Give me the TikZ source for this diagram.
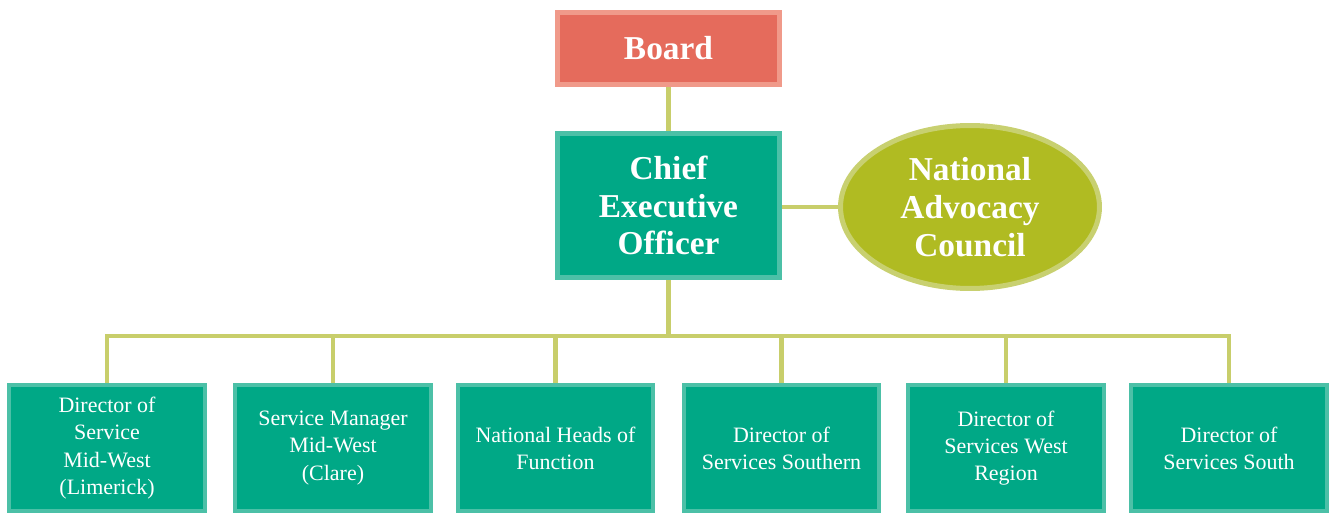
\documentclass[tikz,border=0pt]{standalone}
\usepackage{fontspec}
\setmainfont{Liberation Serif}
\usetikzlibrary{shapes.geometric}

\definecolor{boardred}{HTML}{E56B5C}
\definecolor{boardedge}{HTML}{F09A8A}
\definecolor{teal}{HTML}{00A886}
\definecolor{tealedge}{HTML}{4CC0A7}
\definecolor{olive}{HTML}{B0BB22}
\definecolor{oliveedge}{HTML}{C8D070}
\definecolor{link}{HTML}{C8CE6B}

\tikzset{
  topbox/.style={rectangle, line width=0.1cm, text=white, align=center,
    font=\fontsize{19}{21.5}\selectfont\bfseries, inner sep=0pt},
  unitbox/.style={rectangle, draw=tealedge, fill=teal, line width=0.08cm,
    text=white, align=center, minimum width=3.92cm, minimum height=2.52cm,
    inner sep=0pt, font=\fontsize{12.5}{15.5}\selectfont},
  link/.style={draw=link, line width=0.09cm}
}

\begin{document}
\begin{tikzpicture}[x=0.02cm, y=-0.02cm]
      \useasboundingbox (0,0) rectangle (1335,513);

      % Draw the board and the chief executive
      \node[topbox, draw=boardedge, fill=boardred, minimum width=4.44cm,
      minimum height=1.44cm] (board) at (668.5,48.5) {Board};
      \node[topbox, draw=tealedge, fill=teal, minimum width=4.44cm,
      minimum height=2.88cm] (ceo) at (668.5,205.5)
      {Chief\\Executive\\Officer};

      % Draw the advocacy council
      \node[topbox, ellipse, draw=oliveedge, fill=olive, minimum width=5.18cm,
      minimum height=3.26cm] (nac) at (970,207)
      {National\\Advocacy\\Council};

      % Draw the six units below
      \node[unitbox] (limerick) at (107,448)
      {Director of\\Service\\Mid-West\\(Limerick)};
      \node[unitbox] (clare) at (333,448) {Service Manager\\Mid-West\\(Clare)};
      \node[unitbox] (heads) at (555.5,448) {National Heads of\\Function};
      \node[unitbox] (southern) at (781.5,448)
      {Director of\\Services Southern};
      \node[unitbox] (west) at (1006,448)
      {Director of\\Services West\\Region};
      \node[unitbox] (south) at (1229,448) {Director of\\Services South};

      % Connect the boxes
      \draw[link] (board) -- (ceo);
      \draw[link] (ceo.east |- nac) -- (nac);
      \draw[link] (ceo.south) -- ++(0,56) coordinate (bus);
      \draw[link] (bus) -| (limerick.north);
      \draw[link] (bus) -| (clare.north);
      \draw[link] (bus) -| (heads.north);
      \draw[link] (bus) -| (southern.north);
      \draw[link] (bus) -| (west.north);
      \draw[link] (bus) -| (south.north);
    \end{tikzpicture}
\end{document}
